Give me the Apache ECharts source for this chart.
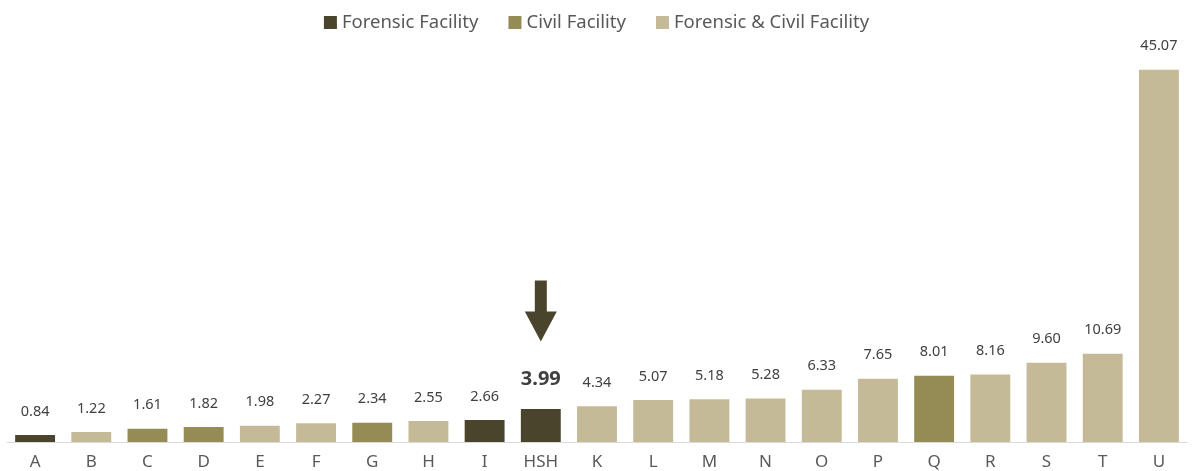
<!DOCTYPE html>
<html>
<head>
<meta charset="utf-8">
<script src="https://cdn.jsdelivr.net/npm/echarts@6/dist/echarts.min.js"></script>
<style>
  html, body { margin: 0; padding: 0; background: #ffffff; }
  #mainChart { width: 1193px; height: 471px; }
</style>
</head>
<body>
<div id="mainChart"></div>
<script>
// categories and values
var categories = ['A', 'B', 'C', 'D', 'E', 'F', 'G', 'H', 'I', 'HSH', 'K', 'L', 'M', 'N', 'O', 'P', 'Q', 'R', 'S', 'T', 'U'];
var values = [0.84, 1.22, 1.61, 1.82, 1.98, 2.27, 2.34, 2.55, 2.66, 3.99, 4.34, 5.07, 5.18, 5.28, 6.33, 7.65, 8.01, 8.16, 9.60, 10.69, 45.07];
// facility type of each bar: F = forensic, C = civil, B = forensic & civil
var facility = ['F', 'B', 'C', 'C', 'B', 'B', 'C', 'B', 'F', 'F', 'B', 'B', 'B', 'B', 'B', 'B', 'C', 'B', 'B', 'B', 'B'];
var seriesNames = ['Forensic Facility', 'Civil Facility', 'Forensic & Civil Facility'];
var seriesKeys = ['F', 'C', 'B'];
var colors = ['#4b442d', '#958b55', '#c5ba98'];
var highlight = 'HSH';

var font = 'Noto Sans';

function buildData(key) {
	var out = [];
	for (var i = 0; i < values.length; i++) {
		if (facility[i] != key) { out.push('-'); continue; }
		if (categories[i] == highlight) {
			out.push({
				value: values[i],
				label: { fontSize: 20, fontWeight: 'bold', color: '#404040', distance: 20 }
			});
		} else {
			out.push(values[i]);
		}
	}
	return out;
}

var series = [];
for (var s = 0; s < seriesKeys.length; s++) {
	series.push({
		name: seriesNames[s],
		type: 'bar',
		stack: 'all',
		barCategoryGap: '29%',
		itemStyle: { color: colors[s] },
		label: {
			show: true,
			position: 'top',
			distance: 16,
			fontFamily: font,
			fontSize: 14.5,
			color: '#404040',
			formatter: function (p) { return p.value.toFixed(2); }
		},
		data: buildData(seriesKeys[s])
	});
}

// arrow pointing at the highlighted bar
series[0].markPoint = {
	symbol: 'path://M10,0 L22,0 L22,31 L32,31 L16,61 L0,31 L10,31 Z',
	symbolSize: [32, 61],
	symbolOffset: [0, -98],
	itemStyle: { color: colors[0] },
	label: { show: false },
	silent: true,
	data: [{ coord: [highlight, values[categories.indexOf(highlight)]] }]
};

var myChart = echarts.init(document.getElementById('mainChart'));
var option = {
	backgroundColor: '#ffffff',
	animation: false,
	legend: {
		top: 8,
		left: 'center',
		icon: 'rect',
		itemWidth: 13,
		itemHeight: 13,
		itemGap: 30,
		textStyle: { fontFamily: font, fontSize: 18.5, color: '#595959' },
		data: seriesNames
	},
	grid: { left: 7, right: 6, top: 29, bottom: 28 },
	xAxis: {
		type: 'category',
		data: categories,
		axisLine: { lineStyle: { color: '#d9d9d9', width: 1 } },
		axisTick: { show: false },
		axisLabel: { fontFamily: font, fontSize: 17, color: '#595959', margin: 12 }
	},
	yAxis: {
		type: 'value',
		min: 0,
		max: 50,
		show: false,
		splitLine: { show: false }
	},
	series: series
};
myChart.setOption(option, true);
</script>
</body>
</html>
